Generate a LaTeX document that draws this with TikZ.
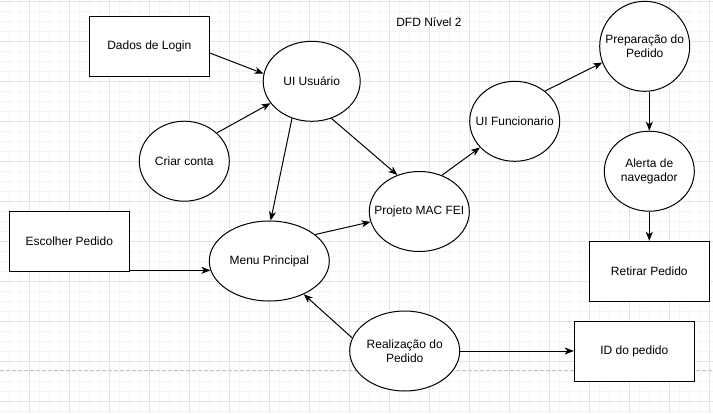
\documentclass[tikz,border=0pt]{standalone}
\usepackage{fontspec}
\setmainfont{Liberation Sans}
\usetikzlibrary{shapes.geometric,arrows.meta}
\definecolor{gmajor}{HTML}{E2E2E2}
\definecolor{gminor}{HTML}{F5F5F5}
\definecolor{gdash}{HTML}{C4C4C4}
\begin{document}
\begin{tikzpicture}[x=1pt,y=-1pt,
  every node/.style={font=\fontsize{12pt}{13.5pt}\selectfont, text=black},
  box/.style={draw, line width=1pt, rectangle, inner sep=0pt, minimum width=120pt, minimum height=60pt, fill=white},
  ell/.style={draw, line width=1pt, ellipse, inner sep=0pt, fill=white},
  lbl/.style={align=center, inner sep=0pt},
  flow/.style={line width=1pt, -{Stealth[length=9pt,width=7pt,inset=2.5pt]}}
]
\useasboundingbox (0,0) rectangle (713,413);
\fill[white] (0,0) rectangle (713,413);
% grid
\foreach \i in {0,...,71} {\draw[gminor, line width=0.75pt] (9.3+10*\i,0) -- (9.3+10*\i,413);}
\foreach \i in {0,...,41} {\draw[gminor, line width=0.75pt] (0,1.7+10*\i) -- (713,1.7+10*\i);}
\foreach \i in {0,...,17} {\draw[gmajor, line width=0.75pt] (29.3+40*\i,0) -- (29.3+40*\i,413);}
\foreach \i in {0,...,10} {\draw[gmajor, line width=0.75pt] (0,1.7+40*\i) -- (713,1.7+40*\i);}
\draw[gdash, line width=0.75pt, dash pattern=on 4pt off 2pt] (0,370.7) -- (713,370.7);

% nodes
\node (title) at (429,21.7) {DFD Nível 2};
\node[box] (dados) at (149.3,46) {Dados de Login};
\node[box] (escolher) at (69.3,241.3) {Escolher Pedido};
\node[box] (idp) at (634.3,351.3) {ID do pedido};
\node[box] (retirar) at (649.3,271.3) {Retirar Pedido};
\node[ell, minimum width=97pt, minimum height=80pt, label={[lbl]center:UI Usuário}] (uiu) at (311.7,81.3) {};
\node[ell, minimum width=90pt, minimum height=80pt, label={[lbl]center:Criar conta}] (criar) at (184.3,161.2) {};
\node[ell, minimum width=120pt, minimum height=80pt, label={[lbl]center:Menu Principal}] (menu) at (269.3,261) {};
\node[ell, minimum width=110pt, minimum height=80pt, label={[lbl]center:Realização do\\Pedido}] (real) at (404.7,351) {};
\node[ell, minimum width=100pt, minimum height=80pt, label={[lbl]center:Projeto MAC FEI}] (proj) at (419.3,211.5) {};
\node[ell, minimum width=90pt, minimum height=80pt, label={[lbl]center:UI Funcionario}] (uif) at (514.7,121.3) {};
\node[ell, minimum width=90pt, minimum height=90pt, label={[lbl]center:Preparação do\\Pedido}] (prep) at (644.7,46.3) {};
\node[ell, minimum width=90pt, minimum height=80pt, label={[lbl]center:Alerta de\\navegador}] (alerta) at (649.3,171.2) {};

% connectors
\draw[flow] ([yshift=-7pt]dados.east) -- (uiu.171);
\draw[flow] (criar.41) -- (uiu.208);
\draw[flow] (uiu.242) -- (menu.88);
\draw[flow] (uiu.298) -- (proj.121);
\draw[flow] (menu.30) -- (proj.192);
\draw[flow] (proj.58) -- (uif.217);
\draw[flow] (uif.45) -- (prep.201);
\draw[flow] (alerta.north |- prep.south) -- (alerta.north);
\draw[flow] (alerta.south) -- (retirar.north);
\draw[flow] (escolher.east |- menu.189) -- (menu.189);
\draw[flow] (real.166) -- (menu.316);
\draw[flow] (real.east) -- (idp.west |- real.east);
\end{tikzpicture}
\end{document}
